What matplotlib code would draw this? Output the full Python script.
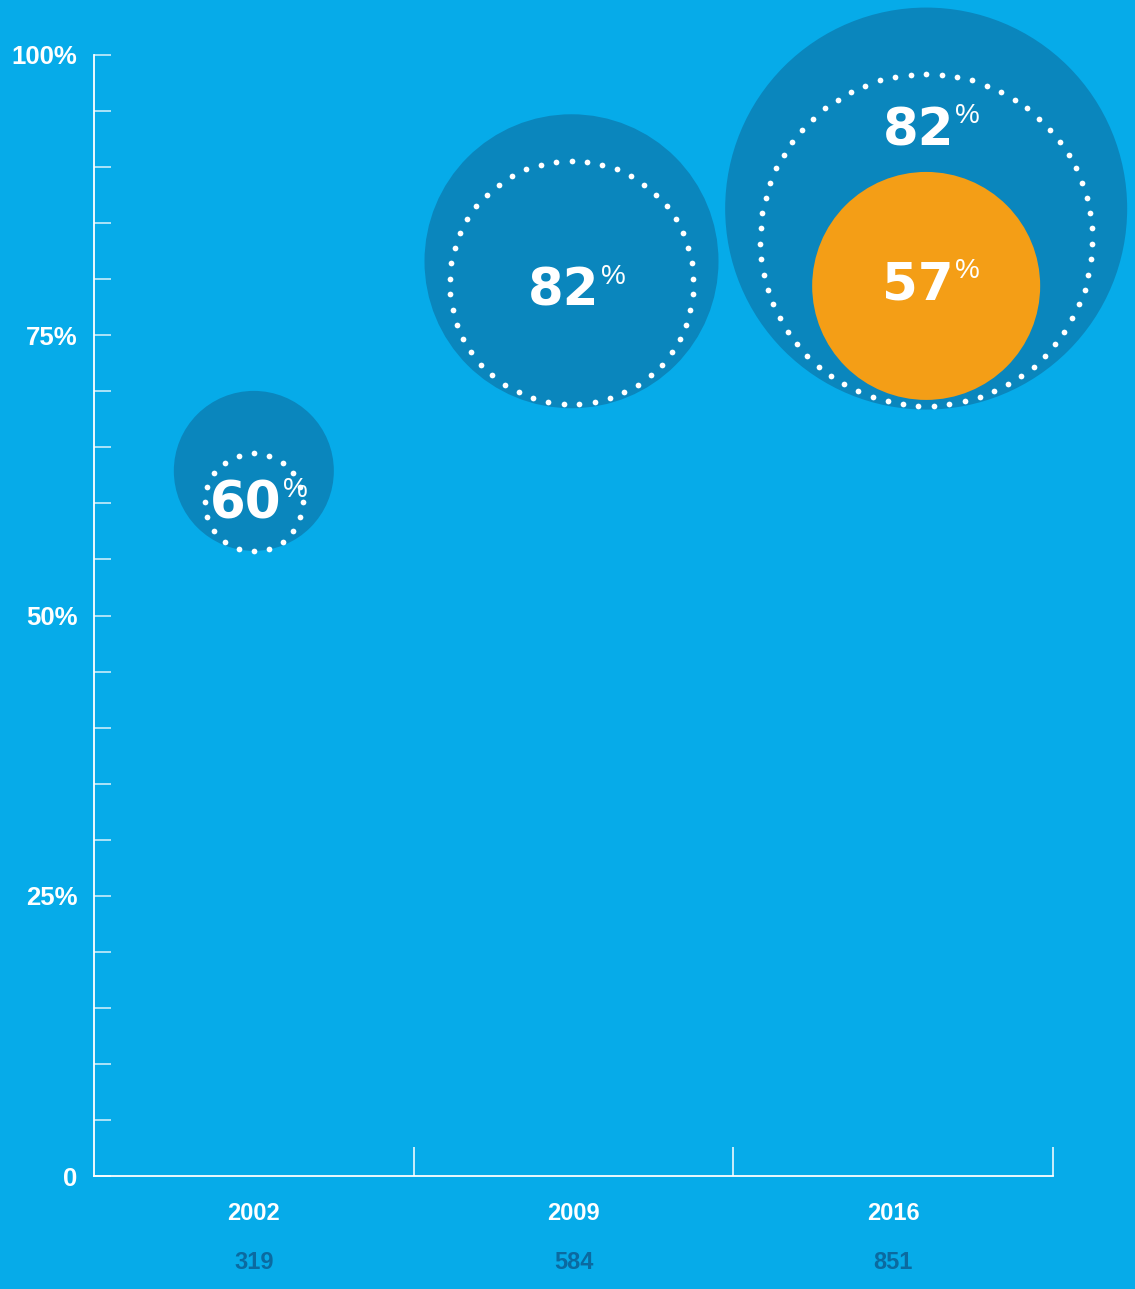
import numpy as np
import matplotlib.pyplot as plt
from matplotlib.patches import Ellipse

# данные
years = ['2002', '2009', '2016']
respondents = [319, 584, 851]
share_main = [60, 82, 82]      # %
share_extra = [None, None, 57]  # % (оранжевый круг, только 2016)

# раскладка пузырей (сдвиг по X в пикселях, центры в % по оси Y, радиусы в пикселях)
shift_x = [0, -2, 33]
outer_y = [62.9, 81.6, 86.3]
outer_r = [80, 147, 201]
ring_y = [60.1, 79.7, 83.5]
ring_r = [49, 122, 166]
label_y = [59.9, 78.9, 93.2]
extra_y = 79.4
extra_r = 114

BG = '#06abe9'
DARK = '#0a86bd'
ORANGE = '#f49e16'
COUNT_C = '#0b6aa0'

W, H = 1135, 1289
fig = plt.figure(figsize=(W / 100, H / 100), dpi=100, facecolor=BG)
ax_left, ax_bottom, ax_w, ax_h = 94 / W, 113 / H, 959 / W, 1121 / H
ax = fig.add_axes([ax_left, ax_bottom, ax_w, ax_h])
ax.set_facecolor('none')
ax.set_xlim(0, 3)
ax.set_ylim(0, 100)

# пикселей на единицу данных
sx = ax_w * W / 3
sy = ax_h * H / 100

big_font = dict(family=['DejaVu Sans'], fontweight='bold', fontsize=37, color='white')
pct_font = dict(family=['Liberation Sans', 'DejaVu Sans'], fontsize=20, color='white')


def put_label(x, y, value):
    t = ax.text(x - 8 / sx, y, str(value), ha='center', va='center', zorder=6, **big_font)
    ax.annotate('%', xy=(1, 1), xycoords=t, xytext=(1, 2), textcoords='offset points',
                ha='left', va='top', zorder=6, **pct_font)


def dotted_ring(cx, cy, r):
    n = int(round(2 * np.pi * r / 15.5))
    th = np.linspace(0, 2 * np.pi, n, endpoint=False) + np.pi / 2
    ax.scatter(cx + r * np.cos(th) / sx, cy + r * np.sin(th) / sy, s=17, color='white',
               linewidths=0, clip_on=False, zorder=5)


for i, yr in enumerate(years):
    cx = i + 0.5 + shift_x[i] / sx
    ax.add_patch(Ellipse((cx, outer_y[i]), 2 * outer_r[i] / sx, 2 * outer_r[i] / sy,
                         facecolor=DARK, edgecolor='none', clip_on=False, zorder=3))
    dotted_ring(cx, ring_y[i], ring_r[i])
    if share_extra[i] is not None:
        ax.add_patch(Ellipse((cx, extra_y), 2 * extra_r / sx, 2 * extra_r / sy,
                             facecolor=ORANGE, edgecolor='none', clip_on=False, zorder=4))
        put_label(cx, extra_y, share_extra[i])
    put_label(cx, label_y[i], share_main[i])

# оси
for s in ['top', 'right']:
    ax.spines[s].set_visible(False)
for s in ['left', 'bottom']:
    ax.spines[s].set_color('white')
    ax.spines[s].set_linewidth(1.3)

ax.set_yticks([0, 25, 50, 75, 100])
ax.set_yticklabels(['0', '25%', '50%', '75%', '100%'])
ax.set_yticks(range(0, 101, 5), minor=True)
ax.tick_params(axis='y', which='both', direction='in', length=12, width=1.1,
               color=(1, 1, 1, 0.85), pad=12, labelcolor='white')
ax.tick_params(axis='y', which='major', labelsize=18.5)
for lab in ax.get_yticklabels():
    lab.set_fontweight('bold')
    lab.set_family(['Liberation Sans', 'DejaVu Sans'])

ax.set_xticks([1, 2, 3])
ax.set_xticklabels([])
ax.tick_params(axis='x', direction='in', length=21, width=1.1, color='white')

cond = ['Liberation Sans Narrow', 'Liberation Sans', 'DejaVu Sans']
for i, yr in enumerate(years):
    ax.annotate(yr, xy=(i + 0.5, 0), xycoords='data', xytext=(0, -27), textcoords='offset points',
                ha='center', va='center', fontsize=17, fontweight='bold', color='white', family=cond)
    ax.annotate(str(respondents[i]), xy=(i + 0.5, 0), xycoords='data', xytext=(0, -62),
                textcoords='offset points', ha='center', va='center', fontsize=17,
                fontweight='bold', color=COUNT_C, family=cond)

fig.savefig('out.png', dpi=100, facecolor=BG)
